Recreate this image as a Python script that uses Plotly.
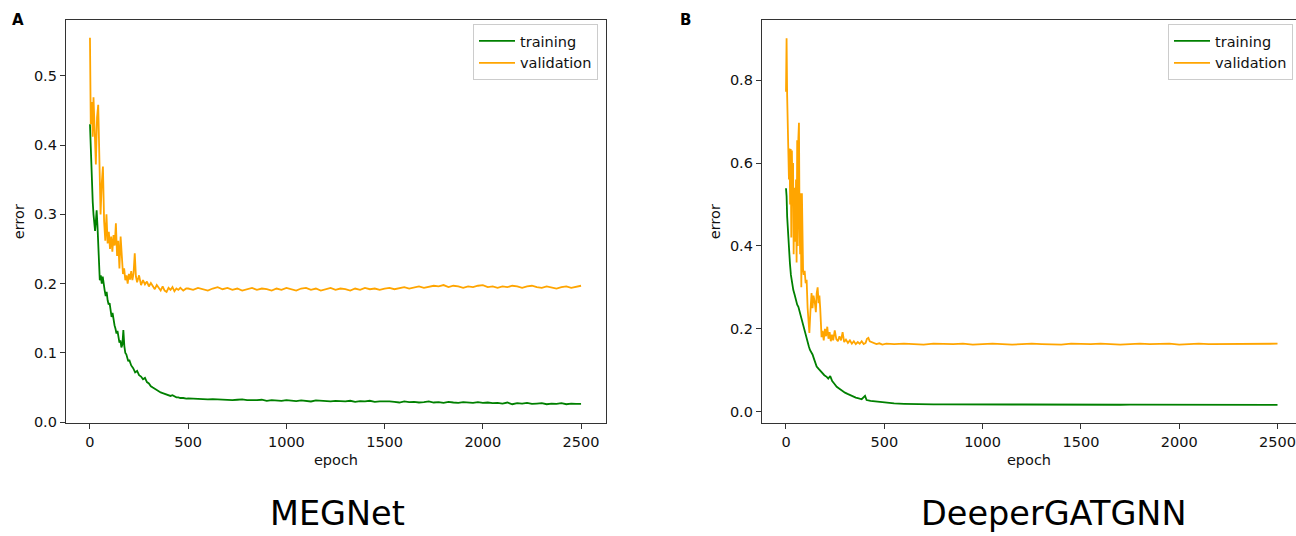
import plotly.graph_objects as go

# ---------------- MEGNet (panel A) ----------------
meg_val_early_epochs = [0, 4, 9, 14, 18, 24, 30, 36, 42, 48, 54, 60, 66, 72, 78, 84, 90, 96, 102, 108,
                        114, 120, 126, 132, 138, 144, 150, 156, 162, 168, 174, 180, 186, 192, 198, 204,
                        210, 216, 222, 228, 234, 240, 250, 260, 270, 280, 290, 300, 310, 320, 330, 340,
                        350, 360, 370, 380, 390, 400, 410, 420, 430, 440, 450, 460, 475, 490]
meg_val_early = [0.555, 0.430, 0.462, 0.412, 0.469, 0.410, 0.372, 0.440, 0.458, 0.380, 0.300, 0.345,
                 0.369, 0.290, 0.262, 0.300, 0.258, 0.275, 0.250, 0.268, 0.246, 0.270, 0.255, 0.287,
                 0.240, 0.262, 0.222, 0.268, 0.235, 0.214, 0.222, 0.205, 0.212, 0.200, 0.214, 0.206,
                 0.218, 0.205, 0.215, 0.244, 0.210, 0.202, 0.212, 0.198, 0.205, 0.199, 0.203, 0.196,
                 0.201, 0.197, 0.192, 0.198, 0.194, 0.190, 0.196, 0.190, 0.188, 0.194, 0.191, 0.195,
                 0.189, 0.193, 0.191, 0.194, 0.190, 0.193]
meg_val_late = [0.193, 0.191, 0.194, 0.192, 0.190, 0.193, 0.195, 0.192, 0.194, 0.191, 0.193, 0.190,
                0.192, 0.194, 0.191, 0.193, 0.192, 0.190, 0.193, 0.191, 0.194, 0.192, 0.190, 0.193,
                0.194, 0.191, 0.193, 0.190, 0.192, 0.194, 0.191, 0.193, 0.192, 0.190, 0.193, 0.191,
                0.194, 0.192, 0.193, 0.191, 0.193, 0.194, 0.192, 0.193, 0.195, 0.193, 0.194, 0.196,
                0.194, 0.195, 0.197, 0.196, 0.198, 0.195, 0.197, 0.196, 0.194, 0.196, 0.195, 0.197,
                0.198, 0.195, 0.196, 0.194, 0.196, 0.195, 0.197, 0.196, 0.194, 0.196, 0.197, 0.195,
                0.194, 0.196, 0.195, 0.193, 0.195, 0.196, 0.194, 0.196, 0.197]

meg_train_early_epochs = [0, 3, 6, 10, 14, 18, 22, 26, 30, 34, 38, 42, 46, 50, 55, 60, 65, 70, 75, 80,
                          85, 90, 95, 100, 105, 110, 115, 120, 125, 130, 135, 140, 145, 150, 155, 160,
                          165, 170, 175, 180, 185, 190, 195, 200, 210, 220, 230, 240, 250, 260, 270,
                          280, 290, 300, 310, 320, 330, 340, 350, 360, 370, 380, 390, 400, 410, 420,
                          430, 440, 450, 460, 475, 490]
meg_train_early = [0.430, 0.400, 0.372, 0.345, 0.318, 0.300, 0.278, 0.276, 0.290, 0.306, 0.285, 0.255,
                   0.230, 0.205, 0.212, 0.200, 0.210, 0.196, 0.190, 0.182, 0.188, 0.176, 0.170, 0.172,
                   0.160, 0.152, 0.158, 0.145, 0.140, 0.135, 0.128, 0.132, 0.120, 0.115, 0.118, 0.108,
                   0.112, 0.133, 0.110, 0.100, 0.098, 0.094, 0.088, 0.090, 0.082, 0.078, 0.072, 0.074,
                   0.068, 0.066, 0.062, 0.064, 0.058, 0.056, 0.052, 0.050, 0.048, 0.046, 0.045, 0.043,
                   0.042, 0.041, 0.040, 0.040, 0.038, 0.039, 0.037, 0.036, 0.036, 0.035, 0.035, 0.034]
meg_train_late = [0.0345, 0.034, 0.0335, 0.034, 0.033, 0.0335, 0.033, 0.0325, 0.033, 0.032, 0.0325,
                  0.033, 0.032, 0.0315, 0.032, 0.0325, 0.031, 0.032, 0.0315, 0.031, 0.032,
                  0.031, 0.0305, 0.0315, 0.031, 0.030, 0.0315, 0.031, 0.0305, 0.030, 0.031,
                  0.0305, 0.030, 0.031, 0.0295, 0.0305, 0.030, 0.031, 0.0295, 0.030, 0.0305,
                  0.030, 0.0295, 0.0285, 0.030, 0.029, 0.0295, 0.0285, 0.029, 0.030, 0.0285,
                  0.029, 0.028, 0.0295, 0.0285, 0.028, 0.029, 0.0285, 0.028, 0.029, 0.028,
                  0.0285, 0.0275, 0.028, 0.027, 0.0285, 0.026, 0.0275, 0.027, 0.028, 0.0265,
                  0.027, 0.0275, 0.026, 0.027, 0.0265, 0.0275, 0.026, 0.027, 0.0265, 0.0265]

# ---------------- DeeperGATGNN (panel B) ----------------
dg_val_early_epochs = [0, 3, 6, 9, 12, 15, 18, 21, 24, 27, 30, 33, 36, 39, 42, 45, 48, 51, 54, 57,
                       60, 63, 66, 69, 72, 75, 78, 81, 84, 87, 90, 95, 100, 105, 110, 115, 119, 124,
                       130, 135, 140, 147, 152, 156, 161, 166, 170, 174, 178, 181, 186, 192, 198, 204,
                       210, 216, 222, 228, 234, 240, 248, 256, 264, 272, 280, 288, 296, 305, 315, 325,
                       335, 345, 355, 365, 375, 385, 395, 405, 412, 419, 426, 435, 445, 460, 475, 490,
                       510, 530]
dg_val_early = [0.772, 0.901, 0.760, 0.692, 0.690, 0.560, 0.635, 0.500, 0.634, 0.420, 0.630, 0.520,
                0.600, 0.380, 0.540, 0.470, 0.410, 0.560, 0.360, 0.655, 0.400, 0.660, 0.697, 0.460,
                0.380, 0.527, 0.300, 0.527, 0.400, 0.342, 0.330, 0.340, 0.310, 0.318, 0.250, 0.210,
                0.190, 0.240, 0.286, 0.250, 0.280, 0.262, 0.240, 0.285, 0.300, 0.262, 0.280, 0.250,
                0.200, 0.180, 0.195, 0.172, 0.200, 0.182, 0.205, 0.176, 0.192, 0.170, 0.186, 0.172,
                0.196, 0.175, 0.170, 0.182, 0.172, 0.192, 0.168, 0.174, 0.166, 0.172, 0.164, 0.170,
                0.163, 0.168, 0.164, 0.170, 0.163, 0.166, 0.176, 0.178, 0.170, 0.168, 0.165, 0.163,
                0.165, 0.162, 0.164, 0.163]
dg_val_late = [0.163, 0.164, 0.163, 0.162, 0.164, 0.163, 0.163, 0.164, 0.162, 0.163, 0.164, 0.163,
               0.162, 0.163, 0.164, 0.163, 0.163, 0.162, 0.164, 0.163, 0.163, 0.164, 0.163, 0.162,
               0.163, 0.164, 0.163, 0.163, 0.164, 0.162, 0.163, 0.164, 0.163, 0.163, 0.164, 0.163,
               0.164, 0.164, 0.163, 0.164]

dg_train_early_epochs = [0, 3, 6, 9, 12, 16, 20, 25, 30, 37, 44, 50, 57, 63, 70, 76, 82, 88, 95, 102,
                         110, 116, 122, 128, 135, 142, 150, 156, 165, 175, 185, 195, 207, 215, 225,
                         235, 245, 258, 270, 285, 300, 313, 326, 340, 355, 370, 385, 402, 410, 430,
                         450, 470, 495, 520, 550, 600, 650]
dg_train_early = [0.539, 0.520, 0.470, 0.440, 0.422, 0.390, 0.358, 0.330, 0.312, 0.294, 0.282, 0.268,
                  0.258, 0.253, 0.240, 0.225, 0.218, 0.205, 0.192, 0.180, 0.168, 0.158, 0.149, 0.145,
                  0.138, 0.128, 0.118, 0.109, 0.104, 0.098, 0.092, 0.088, 0.084, 0.080, 0.086, 0.074,
                  0.068, 0.060, 0.056, 0.050, 0.046, 0.043, 0.040, 0.037, 0.034, 0.032, 0.030, 0.038,
                  0.028, 0.026, 0.025, 0.023, 0.022, 0.021, 0.020, 0.019, 0.0182]
dg_train_late = [0.0178, 0.0175, 0.0177, 0.0174, 0.0176, 0.0173, 0.0175, 0.0174, 0.0172, 0.0174,
                 0.0173, 0.0171, 0.0173, 0.0172, 0.0170, 0.0172, 0.0171, 0.0169, 0.0171, 0.0170,
                 0.0168, 0.0170, 0.0169, 0.0167, 0.0169, 0.0168, 0.0166, 0.0168, 0.0167, 0.0165,
                 0.0167, 0.0166, 0.0164, 0.0166, 0.0165, 0.0164, 0.0165]

x_ticks = [0, 500, 1000, 1500, 2000, 2500]
meg_y_ticks = [0.0, 0.1, 0.2, 0.3, 0.4, 0.5]
dg_y_ticks = [0.0, 0.2, 0.4, 0.6, 0.8]
panel_titles = ["MEGNet", "DeeperGATGNN"]
panel_letters = ["A", "B"]


def late_epochs(start, step, vals):
    return list(range(start, start + step * len(vals), step))


W, H = 1296, 536
FONT = "DejaVu Sans"
GREEN = "#008000"
ORANGE = "#FFA500"

fig = go.Figure()

fig.add_trace(go.Scatter(x=meg_train_early_epochs + late_epochs(500, 25, meg_train_late),
                         y=meg_train_early + meg_train_late, mode="lines", name="training",
                         line=dict(color=GREEN, width=1.8), xaxis="x", yaxis="y", legend="legend"))
fig.add_trace(go.Scatter(x=meg_val_early_epochs + late_epochs(500, 25, meg_val_late),
                         y=meg_val_early + meg_val_late, mode="lines", name="validation",
                         line=dict(color=ORANGE, width=1.8), xaxis="x", yaxis="y", legend="legend"))
fig.add_trace(go.Scatter(x=dg_train_early_epochs + late_epochs(700, 50, dg_train_late),
                         y=dg_train_early + dg_train_late, mode="lines", name="training",
                         line=dict(color=GREEN, width=1.8), xaxis="x2", yaxis="y2", legend="legend2"))
fig.add_trace(go.Scatter(x=dg_val_early_epochs + late_epochs(550, 50, dg_val_late),
                         y=dg_val_early + dg_val_late, mode="lines", name="validation",
                         line=dict(color=ORANGE, width=1.8), xaxis="x2", yaxis="y2", legend="legend2"))

ydom = [1 - 423.3 / H, 1 - 20 / H]
axis_common = dict(showline=True, linecolor="#333333", linewidth=1.3, ticks="outside", ticklen=5,
                   tickwidth=1.2, tickcolor="#333333", showgrid=False, zeroline=False, automargin=False,
                   tickfont=dict(family=FONT, size=14.5, color="#111111"))

fig.update_layout(
    width=W, height=H, margin=dict(l=0, r=0, t=0, b=0, autoexpand=False),
    paper_bgcolor="white", plot_bgcolor="white",
    font=dict(family=FONT, color="#111111"),
    xaxis=dict(domain=[66 / W, 606 / W], range=[-122, 2627], tickvals=x_ticks, mirror=True,
               anchor="y", title=dict(text="epoch", font=dict(size=14.5), standoff=6), **axis_common),
    yaxis=dict(domain=ydom, range=[-0.0015, 0.5805], tickvals=meg_y_ticks, tickformat=".1f",
               mirror=True, anchor="x", title=dict(text="error", font=dict(size=14.5), standoff=5),
               **axis_common),
    xaxis2=dict(domain=[762 / W, 1.0], range=[-122, 2594], tickvals=x_ticks, mirror=True,
                anchor="y2", title=dict(text="epoch", font=dict(size=14.5), standoff=6), **axis_common),
    yaxis2=dict(domain=ydom, range=[-0.028, 0.945], tickvals=dg_y_ticks, tickformat=".1f",
                mirror=False, anchor="x2", title=dict(text="error", font=dict(size=14.5), standoff=5),
                **axis_common),
    legend=dict(x=598 / W, xanchor="right", y=1 - 24 / H, yanchor="top", bgcolor="white",
                bordercolor="#cccccc", borderwidth=1, font=dict(family=FONT, size=14.5),
                tracegroupgap=0, itemwidth=36),
    legend2=dict(x=1293 / W, xanchor="right", y=1 - 24 / H, yanchor="top", bgcolor="white",
                 bordercolor="#cccccc", borderwidth=1, font=dict(family=FONT, size=14.5),
                 tracegroupgap=0, itemwidth=36),
    showlegend=True,
)

for letter, lx in zip(panel_letters, [18, 685]):
    fig.add_annotation(text="<b>%s</b>" % letter, x=lx / W, y=1 - 20 / H, xref="paper", yref="paper",
                       xanchor="center", yanchor="middle", showarrow=False,
                       font=dict(family=FONT, size=15, color="black"))
for title, tx in zip(panel_titles, [337, 1053]):
    fig.add_annotation(text=title, x=tx / W, y=1 - 513 / H, xref="paper", yref="paper",
                       xanchor="center", yanchor="middle", showarrow=False,
                       font=dict(family=FONT, size=33.5, color="black"))

fig.write_html("out.html", config={"displayModeBar": False},
               post_script="document.body.style.margin='0';")
